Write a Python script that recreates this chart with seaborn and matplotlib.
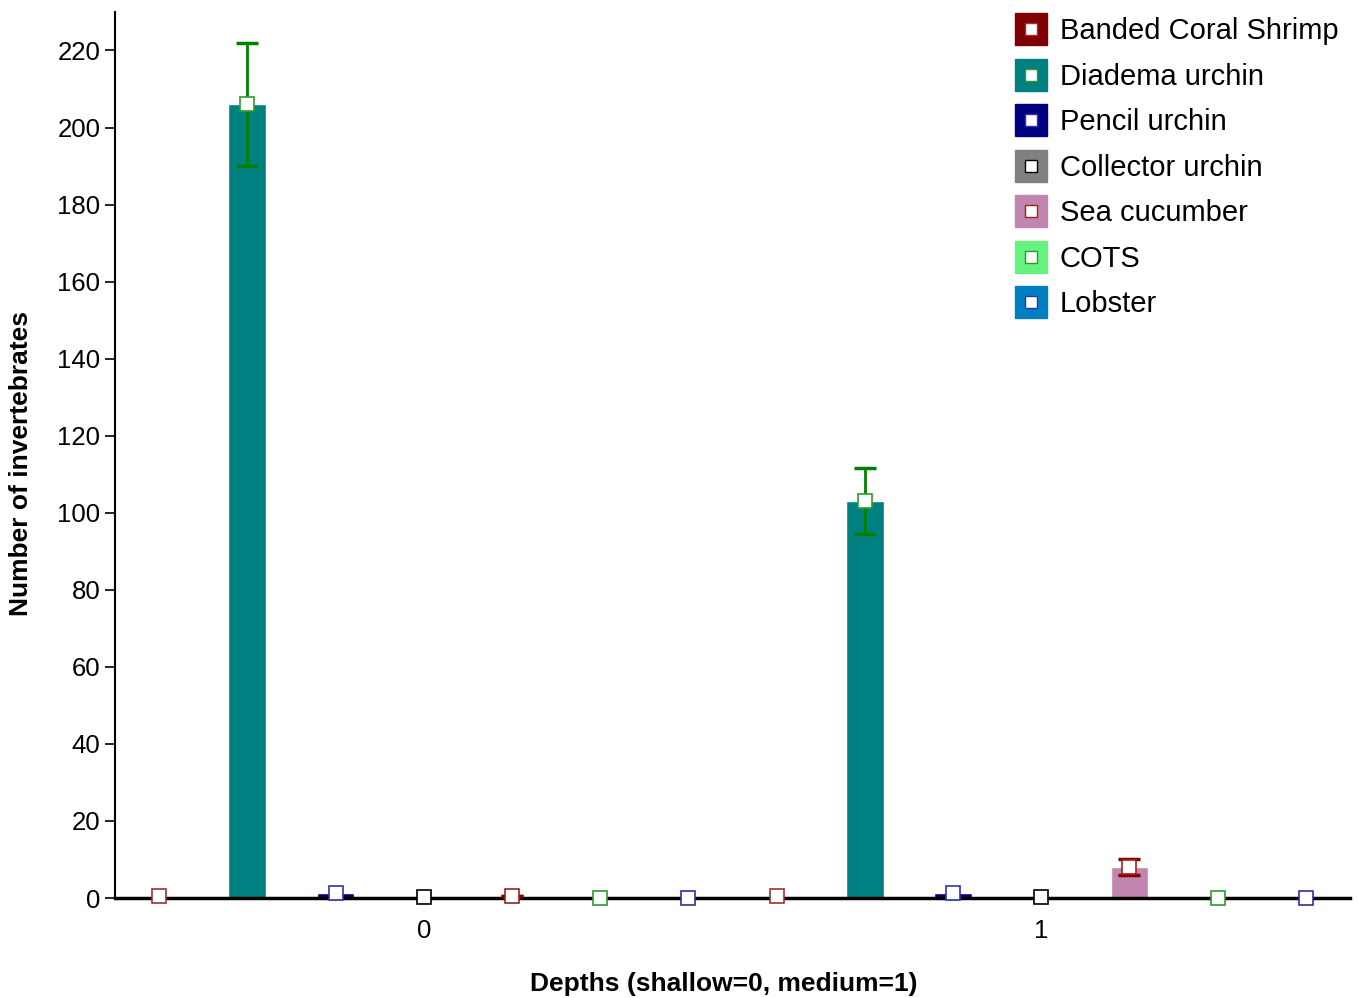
import numpy as np
import pandas as pd
import matplotlib
matplotlib.use("Agg")
import matplotlib.pyplot as plt
import seaborn as sns
from matplotlib.lines import Line2D

# Data
depths = ["0", "1"]
species = ["Banded Coral Shrimp", "Diadema urchin", "Pencil urchin",
           "Collector urchin", "Sea cucumber", "COTS", "Lobster"]
means = {
    "Banded Coral Shrimp": [0.4, 0.5],
    "Diadema urchin": [206.0, 103.0],
    "Pencil urchin": [1.2, 1.3],
    "Collector urchin": [0.2, 0.3],
    "Sea cucumber": [0.6, 8.0],
    "COTS": [0.05, 0.05],
    "Lobster": [0.1, 0.1],
}
errors = {
    "Banded Coral Shrimp": [0.0, 0.0],
    "Diadema urchin": [16.0, 8.5],
    "Pencil urchin": [0.0, 0.0],
    "Collector urchin": [0.0, 0.0],
    "Sea cucumber": [0.0, 2.0],
    "COTS": [0.0, 0.0],
    "Lobster": [0.0, 0.0],
}

fill_colors = ["#800000", "#008080", "#000080", "#808080", "#C086B0", "#66F27E", "#0080C0"]
edge_colors = ["#A03030", "#2E9A2E", "#3030B0", "#000000", "#A02020", "#2E9A2E", "#3030A0"]
err_colors = ["#800000", "#008000", "#000080", "#000000", "#800000", "#008000", "#000080"]

rows = []
for sp in species:
    for d, v in zip(depths, means[sp]):
        rows.append({"Depth": d, "Species": sp, "Count": v})
df = pd.DataFrame(rows)

sns.set_style("white")
plt.rcParams['font.family'] = ['Liberation Sans', 'DejaVu Sans']
plt.rcParams['text.color'] = 'black'
plt.rcParams['axes.labelcolor'] = 'black'
plt.rcParams['xtick.color'] = 'black'
plt.rcParams['ytick.color'] = 'black'

fig = plt.figure(figsize=(13.59, 9.98), dpi=100)
ax = fig.add_axes([0.0846, 0.1002, 0.9088, 0.8878])

sns.barplot(data=df, x="Depth", y="Count", hue="Species", hue_order=species,
            palette=fill_colors, width=1.0, gap=0.57, errorbar=None,
            saturation=1, ax=ax, legend=False)

for i, (sp, cont) in enumerate(zip(species, ax.containers)):
    xs = [p.get_x() + p.get_width() / 2 for p in cont.patches]
    ys = means[sp]
    errs = errors[sp]
    if max(errs) > 0:
        ax.errorbar(xs, ys, yerr=errs, fmt="none", ecolor=err_colors[i],
                    elinewidth=2, capsize=8, capthick=2.5, zorder=3)
    ax.plot(xs, ys, linestyle="none", marker="s", markersize=9.5,
            markerfacecolor="white", markeredgecolor=edge_colors[i],
            markeredgewidth=1.2, zorder=4, clip_on=False)

ax.set_xlim(-0.5, 1.5)
ax.set_ylim(0, 230)
ax.set_yticks(np.arange(0, 221, 20))
ax.tick_params(axis="y", direction="out", length=7, width=1.2, labelsize=18.5, left=True)
ax.tick_params(axis="x", length=0, labelsize=18.5, pad=15)

for s in ["top", "right"]:
    ax.spines[s].set_visible(False)
ax.spines["left"].set_linewidth(1.5)
ax.spines["bottom"].set_linewidth(2.5)
ax.spines["left"].set_color("black")
ax.spines["bottom"].set_color("black")

ax.set_xlabel("Depths (shallow=0, medium=1)", fontsize=19, fontweight="bold")
ax.set_ylabel("Number of invertebrates", fontsize=19, fontweight="bold")
ax.xaxis.set_label_coords(0.493, -0.083)
ax.yaxis.set_label_coords(-0.0664, 0.49)

handles = []
for i in range(len(species)):
    big = Line2D([], [], linestyle="none", marker="s", markersize=23,
                 markerfacecolor=fill_colors[i], markeredgecolor=fill_colors[i])
    small = Line2D([], [], linestyle="none", marker="s", markersize=9,
                   markerfacecolor="white", markeredgecolor=edge_colors[i], markeredgewidth=1)
    handles.append((big, small))

ax.legend(handles, species, loc="upper right", bbox_to_anchor=(1.0, 1.007),
          frameon=False, fontsize=21, handlelength=1.0, handletextpad=0.5,
          labelspacing=0.6, borderaxespad=0)

fig.savefig("out.png", dpi=100)
